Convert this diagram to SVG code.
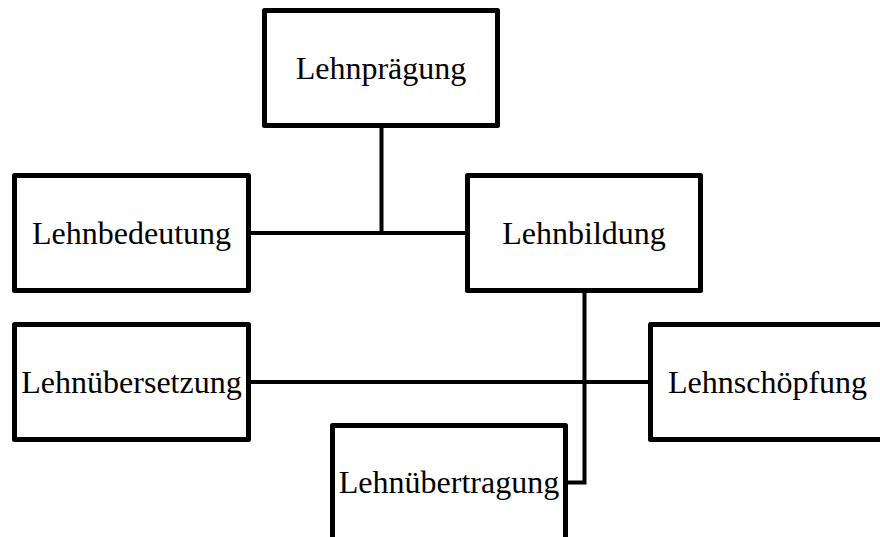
<svg xmlns="http://www.w3.org/2000/svg" width="880" height="537" viewBox="0 0 880 537">
  <style>
    .box { fill: #ffffff; stroke: #000000; stroke-width: 5; stroke-linejoin: round; }
    .label { font-family: "Liberation Serif", "Times New Roman", serif; font-size: 32px; fill: #000000; text-anchor: middle; }
    .link { fill: none; stroke: #000000; stroke-width: 4; stroke-linejoin: miter; }
  </style>
  <rect width="880" height="537" fill="#ffffff"/>

  <!-- connectors -->
  <g id="connectors">
    <path class="link" d="M381.5,126 V233"/>
    <path class="link" d="M250,233 H466"/>
    <path class="link" d="M250,382 H649"/>
    <path class="link" d="M584.5,291 V482.5 H567"/>
  </g>

  <!-- nodes -->
  <g id="lehnpraegung">
    <rect class="box" x="264.5" y="10.5" width="233" height="115"/>
    <text class="label" x="381" y="79">Lehnprägung</text>
  </g>
  <g id="lehnbedeutung">
    <rect class="box" x="14.5" y="175.5" width="234" height="115"/>
    <text class="label" x="131.5" y="244">Lehnbedeutung</text>
  </g>
  <g id="lehnbildung">
    <rect class="box" x="467.5" y="175.5" width="233" height="115"/>
    <text class="label" x="584" y="244">Lehnbildung</text>
  </g>
  <g id="lehnuebersetzung">
    <rect class="box" x="14.5" y="324.5" width="234" height="115"/>
    <text class="label" x="131.5" y="393">Lehnübersetzung</text>
  </g>
  <g id="lehnschoepfung">
    <rect class="box" x="650.5" y="324.5" width="234" height="115"/>
    <text class="label" x="767.5" y="393">Lehnschöpfung</text>
  </g>
  <g id="lehnuebertragung">
    <rect class="box" x="332.5" y="425.5" width="233" height="115"/>
    <text class="label" x="449" y="493">Lehnübertragung</text>
  </g>
</svg>
